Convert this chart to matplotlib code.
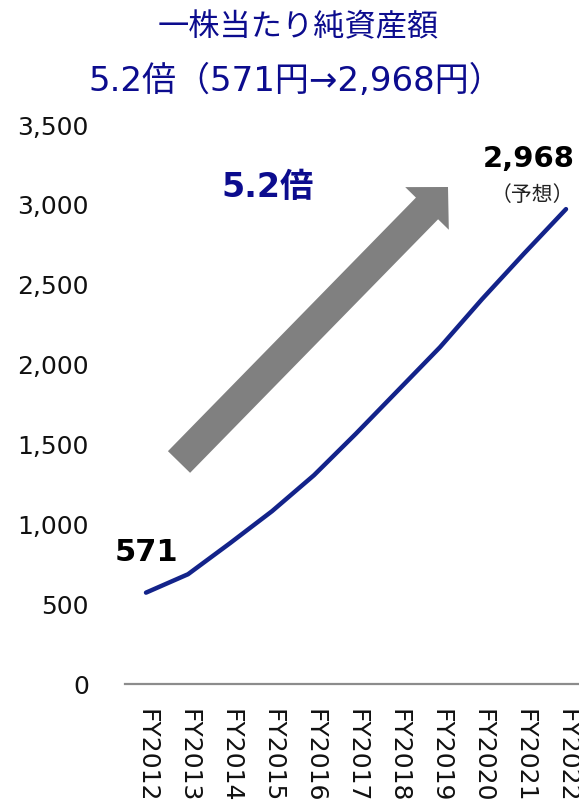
import matplotlib
matplotlib.use("Agg")
import matplotlib.pyplot as plt
from matplotlib.patches import FancyArrow

plt.rcParams['font.family'] = ['DejaVu Sans', 'Noto Sans CJK JP']

# Book value per share (yen), FY2012 actual through FY2022 forecast
years = ["FY2012", "FY2013", "FY2014", "FY2015", "FY2016", "FY2017",
         "FY2018", "FY2019", "FY2020", "FY2021", "FY2022"]
bvps = [571, 686, 880, 1080, 1305, 1565, 1835, 2105, 2405, 2690, 2968]
y_ticks = [0, 500, 1000, 1500, 2000, 2500, 3000, 3500]

title_line1 = "一株当たり純資産額"
title_line2 = "5.2倍（571円→2,968円）"
growth_label = "5.2倍"
forecast_note = "（予想）"

NAVY = "#13238a"
TITLE_BLUE = "#0c0c8e"
GRAY = "#808080"

W, H = 579, 803
fig = plt.figure(figsize=(W / 100, H / 100), dpi=100)

# main plot area (pixel geometry converted to figure fractions)
left_px, right_px, top_px, bottom_px = 125, 579, 125, 685
n = len(years)
x_right_lim = -0.5 + (right_px - left_px) / 42.0
ax = fig.add_axes([left_px / W, 1 - bottom_px / H,
                   (right_px - left_px) / W, (bottom_px - top_px) / H])
ax.patch.set_alpha(0)
x = list(range(n))
ax.plot(x, bvps, color=NAVY, lw=3.2, solid_capstyle='round',
        solid_joinstyle='round', zorder=3)
ax.set_xlim(-0.5, x_right_lim)
ax.set_ylim(0, 3500)
ax.set_yticks(y_ticks)
ax.set_yticklabels([f"{v:,}" for v in y_ticks], fontsize=18, color="#111111")
ax.set_xticks(x)
ax.set_xticklabels(years, rotation=270, fontsize=18, color="#111111",
                   va='top', ha='center')
ax.tick_params(axis='both', length=0)
ax.tick_params(axis='y', pad=26)
ax.tick_params(axis='x', pad=17)
for s in ("top", "right", "left"):
    ax.spines[s].set_visible(False)
ax.spines["bottom"].set_color("#8c8c8c")
ax.spines["bottom"].set_linewidth(1.6)

# value labels at the endpoints
ax.annotate(f"{bvps[0]:,}", xy=(x[0], bvps[0]), xytext=(0, 19),
            textcoords='offset points', ha='center', va='bottom',
            fontsize=22, fontweight='bold', color='black')
ax.annotate(f"{bvps[-1]:,}", xy=(x[-1], bvps[-1]), xytext=(-27, 27),
            textcoords='offset points', ha='center', va='bottom',
            fontsize=21, fontweight='bold', color='black', annotation_clip=False)
ax.annotate(forecast_note, xy=(x[-1], bvps[-1]), xytext=(-24, 3),
            textcoords='offset points', ha='center', va='bottom',
            fontsize=15, color='#222222', family=['Noto Sans CJK JP'],
            annotation_clip=False)

# overlay in pixel units for titles and the growth arrow
ov = fig.add_axes([0, 0, 1, 1], zorder=5)
ov.set_xlim(0, W)
ov.set_ylim(H, 0)
ov.axis('off')

ov.text(298, 27, title_line1, ha='center', va='center', fontsize=22.5,
        color=TITLE_BLUE, family=['Noto Sans CJK JP'])
ov.text(296, 81, title_line2, ha='center', va='center', fontsize=24.5,
        color=TITLE_BLUE, family=['DejaVu Sans', 'Noto Sans CJK JP'])
ov.text(268, 188, growth_label, ha='center', va='center', fontsize=24,
        fontweight='bold', color=TITLE_BLUE,
        family=['DejaVu Sans', 'Noto Sans CJK JP'])

tail = (179, 463)
tip = (448, 188)
ov.add_patch(FancyArrow(tail[0], tail[1], tip[0] - tail[0], tip[1] - tail[1],
                        width=31, head_width=61, head_length=30,
                        length_includes_head=True, color=GRAY, lw=0))

fig.savefig("out.png", dpi=100)
